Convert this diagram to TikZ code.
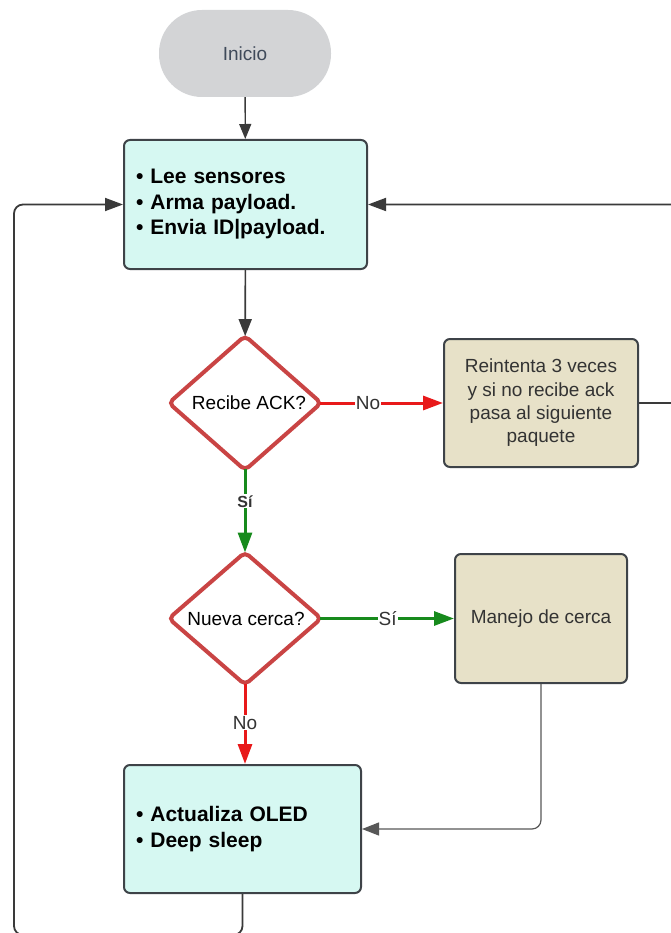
\documentclass[tikz,border=0pt]{standalone}
\usepackage{fontspec}
\setmainfont{Liberation Sans}
\usetikzlibrary{shapes.geometric,arrows.meta}

\definecolor{startgray}{HTML}{D3D4D6}
\definecolor{starttext}{HTML}{3F4A5A}
\definecolor{procfill}{HTML}{D6F8F2}
\definecolor{sidefill}{HTML}{E7E1C8}
\definecolor{edgegray}{HTML}{3E4348}
\definecolor{decred}{HTML}{C94444}
\definecolor{nored}{HTML}{E8191A}
\definecolor{yesgreen}{HTML}{178A1C}
\definecolor{linegray}{HTML}{3A3A3A}
\definecolor{bodytext}{HTML}{333333}

\tikzset{
  regular/.style={font=\fontsize{19}{23.3}\selectfont},
  startnode/.style={rectangle, rounded corners=43pt, fill=startgray, draw=none,
    minimum width=172pt, minimum height=87pt, text=starttext, regular},
  procbox/.style={rectangle, rounded corners=6pt, draw=edgegray, line width=2pt,
    fill=procfill, inner xsep=12pt, align=left, font=\fontsize{21}{25.5}\selectfont\bfseries},
  sidebox/.style={rectangle, rounded corners=6pt, draw=edgegray, line width=2pt,
    fill=sidefill, align=center, text=bodytext, regular},
  decision/.style={diamond, draw=decred, line width=4pt, fill=white, rounded corners=5pt,
    minimum width=154pt, minimum height=134pt, inner sep=0pt, text=black, regular},
  flow/.style={draw=linegray, line width=1.6pt, -{Triangle[length=17pt,width=13pt]}},
  thinflow/.style={draw=linegray!85, line width=1.2pt, rounded corners=9pt,
    -{Triangle[length=17pt,width=13pt]}},
  loopflow/.style={draw=linegray, line width=1.8pt, rounded corners=9pt,
    -{Triangle[length=18pt,width=13pt]}},
  noflow/.style={draw=nored, line width=3pt, -{Triangle[length=20pt,width=14pt]}},
  yesflow/.style={draw=yesgreen, line width=3pt, -{Triangle[length=20pt,width=14pt]}},
  fromdiamond/.style={shorten <=-4pt},
  todiamond/.style={shorten >=-3pt},
  lbl/.style={fill=white, inner sep=1pt, text=bodytext, regular},
  smalllbl/.style={fill=white, inner sep=1pt, text=bodytext, font=\fontsize{16}{18}\selectfont\bfseries},
}

\begin{document}
\begin{tikzpicture}[x=1pt,y=-1pt]
  \useasboundingbox (0,0) rectangle (670,933);

  % nodes
  \node[startnode] (start) at (245,53.5) {Inicio};
  \node[procbox, minimum width=243pt, minimum height=129pt, text width=219pt] (read) at (245.5,204.5)
    {• Lee sensores\\• Arma payload.\\• Envia ID|payload.};
  \node[decision] (ack) at (245,403) {\hspace*{8pt}Recibe ACK?};
  \node[sidebox, minimum width=194pt, minimum height=128pt] (retry) at (541,403)
    {Reintenta 3 veces\\y si no recibe ack\\pasa al siguiente\\paquete};
  \node[decision] (fence) at (245,618.5) {\hspace*{2pt}Nueva cerca?};
  \node[sidebox, minimum width=172pt, minimum height=129pt] (handle) at (541,618.5)
    {\raisebox{2pt}{Manejo de cerca}};
  \node[procbox, minimum width=237pt, minimum height=128pt, text width=213pt] (sleep) at (242.5,829)
    {• Actualiza OLED\\• Deep sleep};

  % loop turning points
  \coordinate (rightturn) at (684,204.5);
  \coordinate (bottomturn) at (14,935);

  % connectors
  \draw[flow, line width=1.4pt, -{Triangle[length=15pt,width=12pt]}] (start) -- (read);
  \draw[flow, todiamond] (read) -- (ack);
  \draw[noflow, fromdiamond] (ack.east) -- node[lbl, pos=0.37] {No} (retry.west);
  \draw[yesflow, fromdiamond, todiamond] (ack.south) -- node[smalllbl, pos=0.37] {Sí} (fence.north);
  \draw[yesflow, fromdiamond] (fence.east) -- node[lbl, pos=0.49] {Sí} (handle.west);
  \draw[noflow, fromdiamond] (fence.south) -- node[lbl, pos=0.46] {No} (fence.south |- sleep.north);
  \draw[thinflow] (handle.south) |- (sleep.east);
  \draw[loopflow] (retry.east) -| (rightturn) -- (read.east);
  \draw[loopflow] (sleep.south) |- (bottomturn) |- (read.west);
\end{tikzpicture}
\end{document}
